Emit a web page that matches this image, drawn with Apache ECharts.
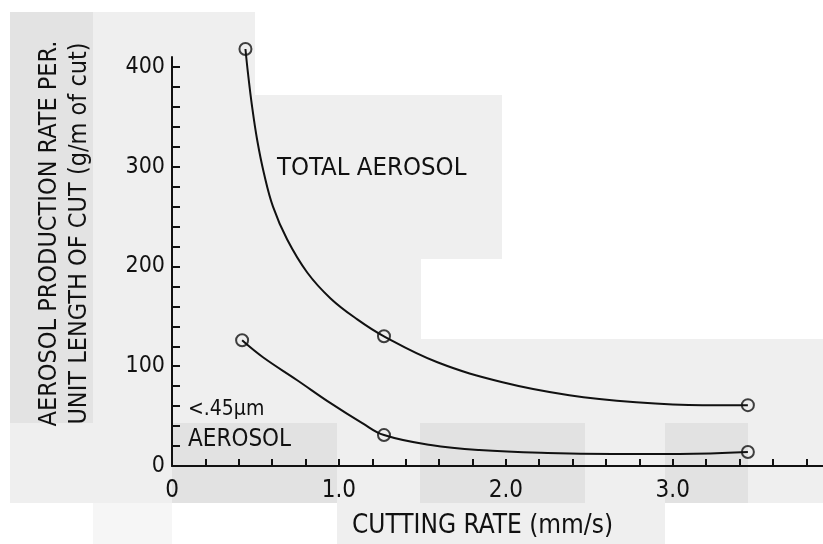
<!DOCTYPE html>
<html>
<head>
<meta charset="utf-8">
<style>
  html, body { margin: 0; padding: 0; background: #ffffff; }
  #chart { width: 823px; height: 544px; }
</style>
<script src="https://cdn.jsdelivr.net/npm/echarts@6/dist/echarts.min.js"></script>
</head>
<body>
<div id="chart"></div>
<script>
// Measured points: cutting rate (mm/s) vs aerosol production per metre of cut
const totalX = [0.44, 1.27, 3.45];
const totalY = [418, 130, 61];
const fineX = [0.42, 1.27, 3.45];
const fineY = [126, 31, 14];

// Hand-drawn fitted curves, traced along their length
const totalCurveX = [0.44, 0.455, 0.48, 0.51, 0.55, 0.605, 0.69, 0.81, 0.95, 1.11, 1.27, 1.59, 1.98, 2.38, 2.78, 3.18, 3.45];
const totalCurveY = [418, 394, 360, 327, 294, 260, 227, 194, 168, 147, 130, 104, 84, 71, 64, 61, 61];
const fineCurveX = [0.42, 0.545, 0.75, 0.95, 1.14, 1.27, 1.55, 1.84, 2.25, 2.64, 3.04, 3.45];
const fineCurveY = [126, 109, 86, 63, 43, 31, 21, 16, 13, 12, 12, 14];

// Axis ticks and labels
const xTickValues = [0, 0.2, 0.4, 0.6, 0.8, 1.0, 1.2, 1.4, 1.6, 1.8, 2.0, 2.2, 2.4, 2.6, 2.8, 3.0, 3.2, 3.4, 3.6, 3.8];
const xLabelValues = [0, 1, 2, 3];
const xLabelText = ['0', '1.0', '2.0', '3.0'];
const yTickValues = [0, 20, 40, 60, 80, 100, 120, 140, 160, 180, 200, 220, 240, 260, 280, 300, 320, 340, 360, 380, 400];
const yLabelValues = [0, 100, 200, 300, 400];

const FONT = "'Liberation Sans Narrow', 'DejaVu Sans Condensed', sans-serif";
const INK = '#111111';

const zip = (xs, ys) => xs.map((x, i) => [x, ys[i]]);

// Soft paper shading behind the plot
const shading = [
  { x: 10, y: 12, w: 83, h: 411, c: '#e3e3e3' },
  { x: 93, y: 12, w: 162, h: 411, c: '#efefef' },
  { x: 10, y: 423, w: 162, h: 80, c: '#efefef' },
  { x: 255, y: 95, w: 247, h: 164, c: '#efefef' },
  { x: 255, y: 259, w: 166, h: 80, c: '#efefef' },
  { x: 255, y: 339, w: 568, h: 84, c: '#efefef' },
  { x: 172, y: 423, w: 165, h: 80, c: '#e2e2e2' },
  { x: 337, y: 423, w: 83, h: 80, c: '#efefef' },
  { x: 420, y: 423, w: 165, h: 80, c: '#e2e2e2' },
  { x: 585, y: 423, w: 80, h: 80, c: '#efefef' },
  { x: 665, y: 423, w: 83, h: 80, c: '#e2e2e2' },
  { x: 748, y: 423, w: 75, h: 80, c: '#efefef' },
  { x: 93, y: 503, w: 79, h: 41, c: '#f6f6f6' },
  { x: 337, y: 503, w: 328, h: 41, c: '#efefef' }
];

const chart = echarts.init(document.getElementById('chart'), null, { renderer: 'canvas' });

const option = {
  backgroundColor: '#ffffff',
  animation: false,
  grid: { left: 172, right: 0, top: 57, bottom: 78, containLabel: false, outerBoundsMode: 'none' },
  xAxis: {
    type: 'value',
    min: 0,
    max: 3.9,
    splitLine: { show: false },
    axisLine: { show: true, lineStyle: { color: INK, width: 2 } },
    axisTick: { show: true, inside: true, length: 7, customValues: xTickValues, lineStyle: { color: INK, width: 2 } },
    axisLabel: {
      customValues: xLabelValues,
      margin: 25,
      color: INK,
      fontFamily: FONT,
      fontSize: 24,
      verticalAlign: 'middle',
      formatter: v => xLabelText[xLabelValues.indexOf(v)] || ''
    },
    name: 'CUTTING RATE (mm/s)',
    nameLocation: 'middle',
    nameGap: 47,
    nameTextStyle: { color: INK, fontFamily: FONT, fontSize: 26, padding: [0, 30, 0, 0] }
  },
  yAxis: {
    type: 'value',
    min: 0,
    max: 410,
    splitLine: { show: false },
    axisLine: { show: true, lineStyle: { color: INK, width: 2 } },
    axisTick: { show: true, inside: true, length: 8, customValues: yTickValues, lineStyle: { color: INK, width: 2 } },
    axisLabel: {
      customValues: yLabelValues,
      margin: 7,
      color: INK,
      fontFamily: FONT,
      fontSize: 23
    },
    name: 'AEROSOL PRODUCTION RATE PER.\nUNIT LENGTH OF CUT (g/m of cut)',
    nameLocation: 'middle',
    nameRotate: 90,
    nameGap: 78,
    nameTextStyle: { color: INK, fontFamily: FONT, fontSize: 25, lineHeight: 30, align: 'center', padding: [0, 0, 0, 56] }
  },
  graphic: [
    ...shading.map(s => ({
      type: 'rect', silent: true, z: -10,
      shape: { x: s.x, y: s.y, width: s.w, height: s.h },
      style: { fill: s.c }
    })),
    {
      type: 'text', left: 277, top: 155, silent: true,
      style: { text: 'TOTAL AEROSOL', fill: INK, font: "25.5px " + FONT }
    },
    {
      type: 'text', left: 188, top: 399, silent: true,
      style: {
        text: '{a|<.45\u00b5m}\n{b|AEROSOL}',
        fill: INK,
        rich: {
          a: { fontFamily: FONT, fontSize: 21, lineHeight: 29, fill: INK },
          b: { fontFamily: FONT, fontSize: 24, lineHeight: 31, fill: INK }
        }
      }
    }
  ],
  series: [
    {
      name: 'Total aerosol curve', type: 'line', data: zip(totalCurveX, totalCurveY),
      smooth: 0.4, showSymbol: false, silent: true, clip: false,
      lineStyle: { color: INK, width: 2 }
    },
    {
      name: 'Fine aerosol curve', type: 'line', data: zip(fineCurveX, fineCurveY),
      smooth: 0.4, showSymbol: false, silent: true, clip: false,
      lineStyle: { color: INK, width: 2 }
    },
    {
      name: 'Total aerosol', type: 'scatter', data: zip(totalX, totalY),
      symbol: 'circle', symbolSize: 12, z: 5, clip: false,
      itemStyle: { color: 'rgba(0,0,0,0)', borderColor: INK, borderWidth: 2 }
    },
    {
      name: '<.45\u00b5m aerosol', type: 'scatter', data: zip(fineX, fineY),
      symbol: 'circle', symbolSize: 12, z: 5, clip: false,
      itemStyle: { color: 'rgba(0,0,0,0)', borderColor: INK, borderWidth: 2 }
    }
  ]
};

chart.setOption(option);
</script>
</body>
</html>
